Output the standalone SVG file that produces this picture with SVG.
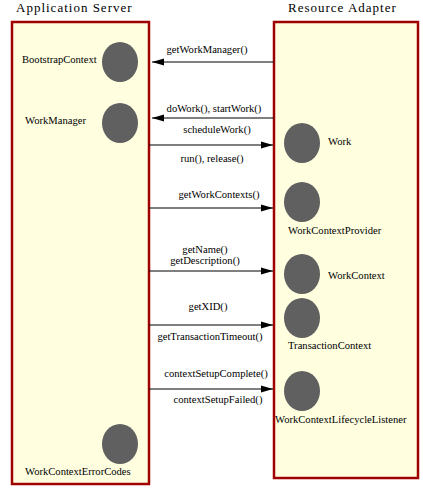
<svg xmlns="http://www.w3.org/2000/svg" width="423" height="494" viewBox="0 0 423 494">
<style>
.box{fill:#ffffe0;stroke:#a00000;stroke-width:2.5}
.title{font-family:"Liberation Serif",serif;font-size:13px;letter-spacing:1px;fill:#000}
.lbl{font-family:"Liberation Serif",serif;font-size:10.6px;fill:#000}
.c{fill:#606060}
.ln{stroke:#000;stroke-width:1.2;fill:none}
.mid{text-anchor:middle}
</style>
<defs>
<marker id="ah" viewBox="0 0 12 8" refX="12" refY="4" markerWidth="12" markerHeight="8" markerUnits="userSpaceOnUse" orient="auto">
<path d="M0,0.5 L12,4 L0,7.5 Z" fill="#000"/>
</marker>
</defs>
<rect width="423" height="494" fill="#fff"/>
<g id="app-server">
<text class="title" x="16" y="12">Application Server</text>
<rect class="box" x="12" y="22" width="137" height="462"/>
</g>
<g id="resource-adapter">
<text class="title" x="288" y="12">Resource Adapter</text>
<rect class="box" x="274" y="22" width="144" height="456"/>
</g>
<g id="BootstrapContext"><ellipse class="c" cx="120" cy="62" rx="18" ry="20"/><text class="lbl" x="22" y="63">BootstrapContext</text></g>
<g id="WorkManager"><ellipse class="c" cx="120" cy="123" rx="18" ry="20"/><text class="lbl" x="25" y="124">WorkManager</text></g>
<g id="WorkContextErrorCodes"><ellipse class="c" cx="120" cy="444" rx="18" ry="20"/><text class="lbl" x="25" y="475">WorkContextErrorCodes</text></g>
<g id="Work"><ellipse class="c" cx="302" cy="143" rx="18" ry="20"/><text class="lbl" x="328" y="145">Work</text></g>
<g id="WorkContextProvider"><ellipse class="c" cx="302" cy="202" rx="18" ry="20"/><text class="lbl" x="288" y="234">WorkContextProvider</text></g>
<g id="WorkContext"><ellipse class="c" cx="302" cy="274" rx="18" ry="20"/><text class="lbl" x="328" y="279">WorkContext</text></g>
<g id="TransactionContext"><ellipse class="c" cx="302" cy="318" rx="18" ry="20"/><text class="lbl" x="288" y="349">TransactionContext</text></g>
<g id="WorkContextLifecycleListener"><ellipse class="c" cx="302" cy="391" rx="18" ry="20"/><text class="lbl" x="275" y="423">WorkContextLifecycleListener</text></g>
<g id="connectors">
<line class="ln" x1="274" y1="62" x2="152" y2="62" marker-end="url(#ah)"/>
<text class="lbl mid" x="207" y="53">getWorkManager()</text>
<line class="ln" x1="274" y1="118" x2="152" y2="118" marker-end="url(#ah)"/>
<text class="lbl mid" x="214" y="112">doWork(), startWork()</text>
<line class="ln" x1="149" y1="145" x2="273" y2="145" marker-end="url(#ah)"/>
<text class="lbl mid" x="217" y="133">scheduleWork()</text>
<text class="lbl mid" x="212" y="162">run(), release()</text>
<line class="ln" x1="149" y1="208" x2="273" y2="208" marker-end="url(#ah)"/>
<text class="lbl mid" x="219" y="198">getWorkContexts()</text>
<line class="ln" x1="149" y1="271" x2="273" y2="271" marker-end="url(#ah)"/>
<text class="lbl mid" x="205" y="253">getName()</text>
<text class="lbl mid" x="205" y="264">getDescription()</text>
<line class="ln" x1="149" y1="325" x2="273" y2="325" marker-end="url(#ah)"/>
<text class="lbl mid" x="208" y="310">getXID()</text>
<text class="lbl mid" x="210" y="340">getTransactionTimeout()</text>
<line class="ln" x1="149" y1="389" x2="273" y2="389" marker-end="url(#ah)"/>
<text class="lbl mid" x="216" y="377">contextSetupComplete()</text>
<text class="lbl mid" x="218" y="403">contextSetupFailed()</text>
</g>
</svg>
